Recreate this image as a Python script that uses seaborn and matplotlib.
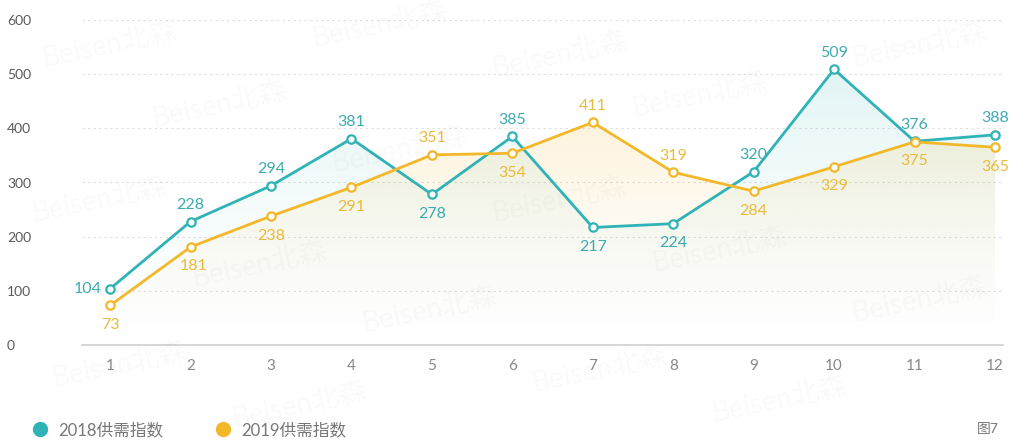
import numpy as np
import pandas as pd
import matplotlib
matplotlib.use("Agg")
import matplotlib.pyplot as plt
import seaborn as sns
from matplotlib.lines import Line2D

months = list(range(1, 13))
idx_2018 = [104, 228, 294, 381, 278, 385, 217, 224, 320, 509, 376, 388]
idx_2019 = [73, 181, 238, 291, 351, 354, 411, 319, 284, 329, 375, 365]
series_names = ["2018供需指数", "2019供需指数"]
y_ticks = [0, 100, 200, 300, 400, 500, 600]

# label placement per point: (dx, dy) in points
pos_2018 = [(-16, 0), (0, 12), (0, 12), (0, 12), (0, -14), (0, 12),
            (0, -14), (0, -14), (0, 12), (0, 12), (0, 12), (0, 12)]
pos_2019 = [(0, -14), (2, -14), (0, -14), (0, -14), (0, 12), (0, -14),
            (0, 12), (0, 12), (0, -14), (0, -14), (0, -14), (0, -14)]

teal = "#2fb3b6"
yellow = "#f3b82a"
teal_txt = "#3eabb0"
yellow_txt = "#e9bb3a"

df = pd.DataFrame({"month": months * 2,
                   "value": idx_2018 + idx_2019,
                   "series": [series_names[0]] * 12 + [series_names[1]] * 12})

sns.set_style("white")
plt.rcParams['font.family'] = ['Lato', 'Noto Sans CJK SC', 'DejaVu Sans']

fig = plt.figure(figsize=(10.09, 4.4), dpi=100)
ax = fig.add_axes([82 / 1009, 1 - 345 / 440, (1003 - 82) / 1009, (345 - 20) / 440])

# watermarks
wm = [(110, 45), (380, 25), (560, 55), (700, 95), (920, 45), (220, 105), (400, 150),
      (100, 200), (560, 200), (260, 265), (720, 250), (920, 300), (430, 310),
      (120, 365), (600, 370), (780, 400), (300, 405)]
for wx, wy in wm:
    fig.text(wx / 1009, 1 - wy / 440, "Beisen北森", fontsize=20, color="#000000",
             alpha=0.025, rotation=12, ha="center", va="center")

# gradient fills
xs = np.array(months, dtype=float)
for vals, col, a in [(idx_2018, teal, 0.14), (idx_2019, yellow, 0.16)]:
    poly = ax.fill_between(xs, vals, 0, color="none", lw=0)
    grad = np.linspace(0, 1, 256).reshape(-1, 1)
    rgb = matplotlib.colors.to_rgb(col)
    img = np.zeros((256, 1, 4))
    img[..., 0], img[..., 1], img[..., 2] = rgb
    img[..., 3] = grad ** 1.5 * a
    im = ax.imshow(img, extent=[xs.min(), xs.max(), 0, max(vals)], origin="lower",
                   aspect="auto", zorder=1)
    im.set_clip_path(poly.get_paths()[0], transform=ax.transData)

sns.lineplot(data=df, x="month", y="value", hue="series",
             palette=[teal, yellow], lw=2, legend=False, ax=ax, zorder=3)
ax.plot(months, idx_2018, ls="none", marker="o", ms=6, mfc="white", mec=teal, mew=1.6, zorder=4)
ax.plot(months, idx_2019, ls="none", marker="o", ms=6, mfc="white", mec=yellow, mew=1.6, zorder=4)

for vals, offs, c in [(idx_2018, pos_2018, teal_txt), (idx_2019, pos_2019, yellow_txt)]:
    for m, v, (dx, dy) in zip(months, vals, offs):
        ax.annotate(str(v), (m, v), xytext=(dx, dy), textcoords="offset points",
                    ha="center", va="center", fontsize=11.5, color=c, zorder=5)

ax.set_xlim(0.65, 12.1)
ax.set_ylim(0, 600)
ax.set_xticks(months)
ax.set_yticks(y_ticks)
ax.set_xticklabels([str(m) for m in months], fontsize=11, color="#888888")
ax.set_yticklabels([str(t) for t in y_ticks], fontsize=10, color="#5a5a5a", ha="left")
ax.tick_params(axis="y", length=0, pad=54)
ax.tick_params(axis="x", length=0, pad=10)
for t in y_ticks[1:]:
    ax.axhline(t, color="#dddddd", lw=0.8, ls=(0, (2, 3)), zorder=0)
for s in ["top", "right", "left"]:
    ax.spines[s].set_visible(False)
ax.spines["bottom"].set_color("#d0d0d0")
ax.spines["bottom"].set_linewidth(1.2)
ax.set_xlabel("")
ax.set_ylabel("")

handles = [Line2D([], [], ls="none", marker="o", ms=10, color=teal),
           Line2D([], [], ls="none", marker="o", ms=10, color=yellow)]
fig.legend(handles, series_names, loc="lower left", bbox_to_anchor=(0.008, -0.03),
           ncol=2, frameon=False, fontsize=12, labelcolor="#777777",
           handletextpad=0.1, columnspacing=2.6)
fig.text(0.99, 0.025, "图7", fontsize=10, color="#777777", ha="right", va="center")

fig.savefig("out.png", dpi=100, facecolor="white")
